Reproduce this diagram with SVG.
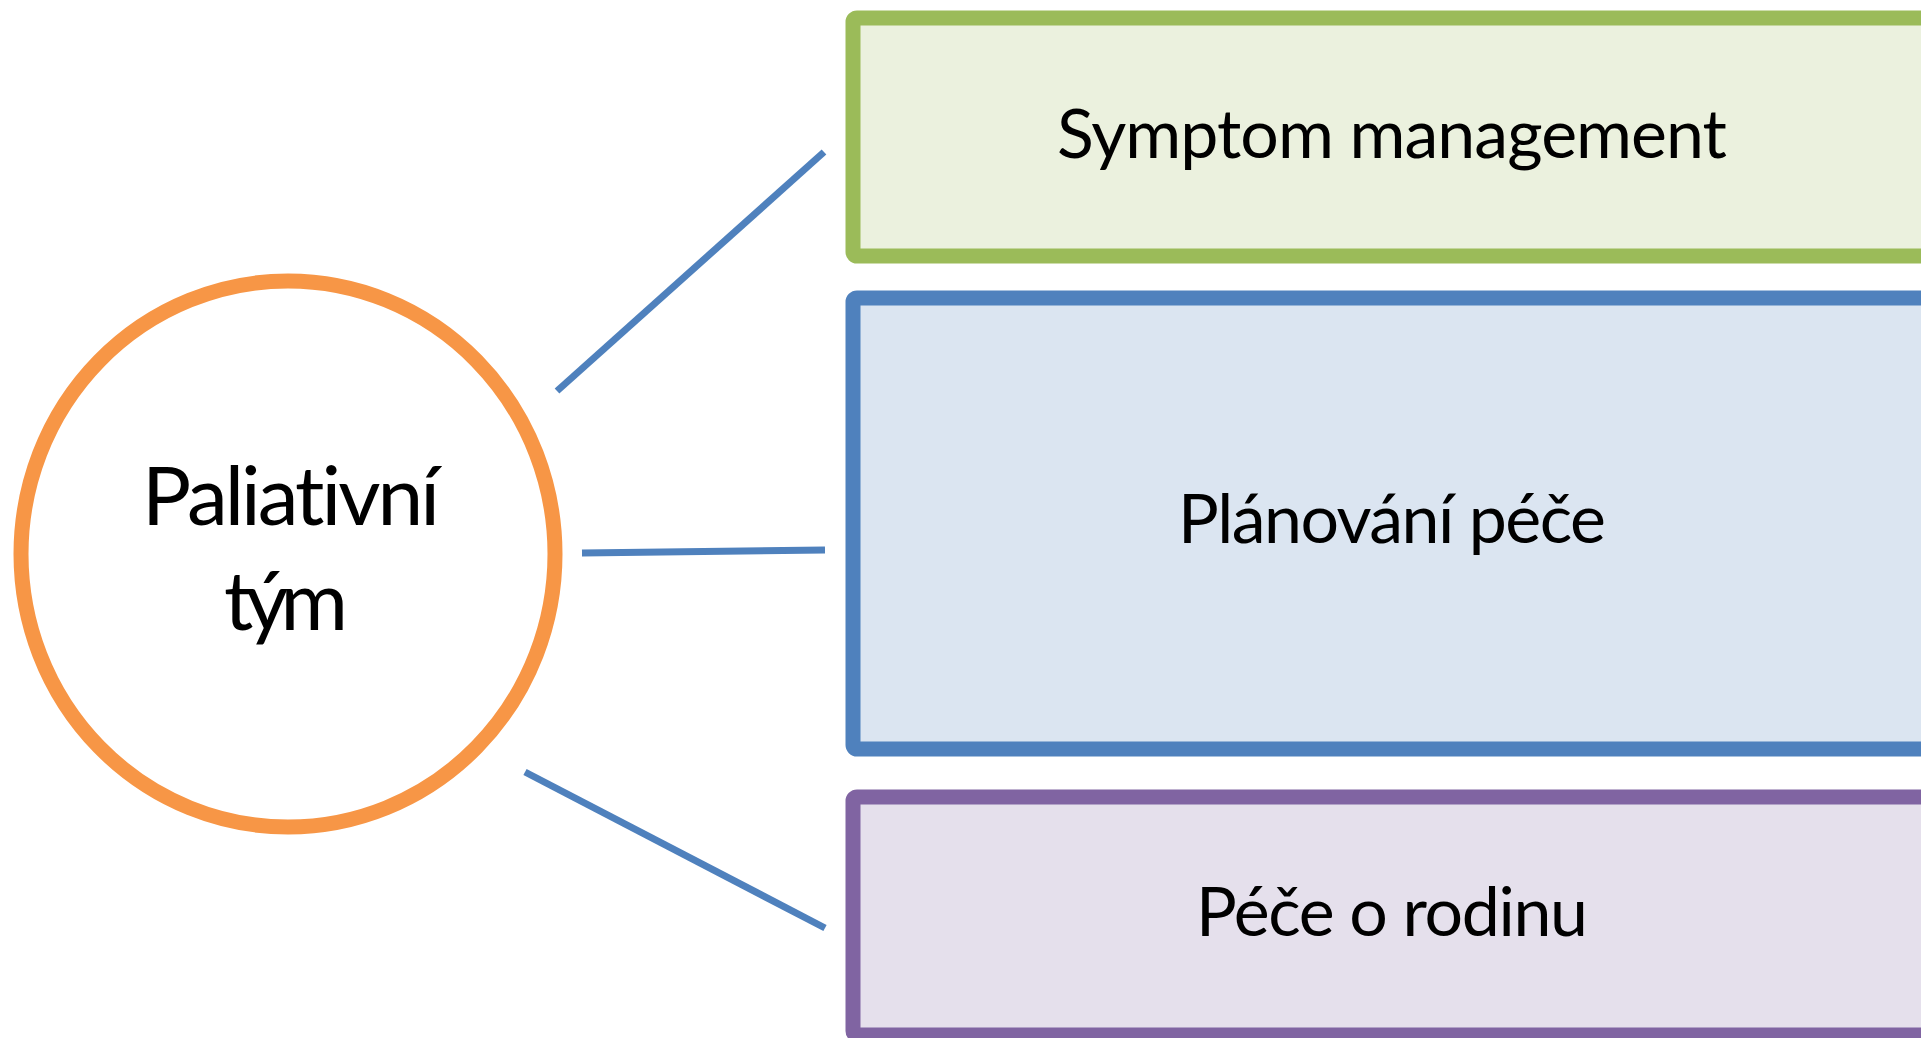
<svg xmlns="http://www.w3.org/2000/svg" width="1921" height="1038" viewBox="0 0 1921 1038">
<style>
.lbl{font-family:Lato,"Open Sans","Liberation Sans",sans-serif;font-weight:400;fill:#000;text-anchor:middle;font-variant-ligatures:none}
.box{stroke-width:15}
.conn{stroke:#4F81BD;stroke-width:7;fill:none}
</style>
<rect x="0" y="0" width="1921" height="1038" fill="#FFFFFF"/>
<g id="connectors">
<line class="conn" x1="557" y1="391" x2="824" y2="152"/>
<line class="conn" x1="582" y1="553" x2="825" y2="550"/>
<line class="conn" x1="525" y1="772" x2="825" y2="928"/>
</g>
<g id="node-paliativni-tym">
<ellipse cx="288" cy="554" rx="267" ry="273" fill="#FFFFFF" stroke="#F79646" stroke-width="15"/>
<text class="lbl" x="291" y="525" font-size="82" textLength="298" lengthAdjust="spacing">Paliativní</text>
<text class="lbl" x="286" y="630" font-size="82" textLength="124" lengthAdjust="spacing">tým</text>
</g>
<g id="node-symptom-management">
<rect class="box" x="853" y="18" width="1100" height="238" rx="4" fill="#EBF1DE" stroke="#9BBB59"/>
<text class="lbl" x="1392" y="158" font-size="68" textLength="670" lengthAdjust="spacing">Symptom management</text>
</g>
<g id="node-planovani-pece">
<rect class="box" x="853" y="298" width="1100" height="451" rx="4" fill="#DBE5F1" stroke="#4F81BD"/>
<text class="lbl" x="1392" y="543" font-size="68" textLength="428" lengthAdjust="spacing">Plánování péče</text>
</g>
<g id="node-pece-o-rodinu">
<rect class="box" x="853" y="797" width="1100" height="238" rx="4" fill="#E5E0EC" stroke="#8064A2"/>
<text class="lbl" x="1392" y="936" font-size="68" textLength="392" lengthAdjust="spacing">Péče o rodinu</text>
</g>
</svg>
